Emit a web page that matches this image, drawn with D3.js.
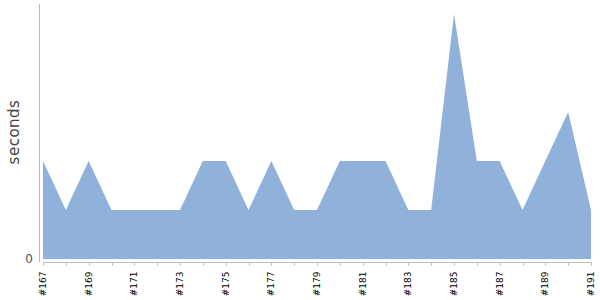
<!DOCTYPE html>
<html><head><meta charset="utf-8">
<script src="https://cdn.jsdelivr.net/npm/d3@7"></script>
<style>body{margin:0;background:#fff}svg{display:block}</style>
</head><body>
<svg id="c" width="600" height="300"></svg>
<script>
const builds = ["#167","#168","#169","#170","#171","#172","#173","#174","#175","#176","#177","#178","#179","#180","#181","#182","#183","#184","#185","#186","#187","#188","#189","#190","#191"];
const seconds = [2,1,2,1,1,1,1,2,2,1,2,1,1,2,2,2,1,1,5,2,2,1,2,3,1];
const yTicks = [0];

const svg = d3.select("#c");
const x = d3.scalePoint().domain(builds).range([43, 591]);
const y = d3.scaleLinear().domain([0, 5]).range([259, 14]);

const area = d3.area().x((d,i)=>x(builds[i])).y0(y(0)).y1(d=>y(d));
svg.append("path").datum(seconds).attr("d", area).attr("fill", "#8fb1da");

// y axis line
svg.append("line").attr("x1",39.5).attr("x2",39.5).attr("y1",4).attr("y2",262)
  .attr("stroke","#bbb").attr("stroke-width",1);
svg.selectAll(".yt").data(yTicks).enter().append("text")
  .attr("x",33).attr("y",d=>y(d)).attr("dy","0.35em").attr("text-anchor","end")
  .attr("font-family","DejaVu Sans").attr("font-size",12).attr("fill","#555").text(d=>d);

// x axis
const xa = svg.append("g").attr("transform","translate(0,262.5)");
xa.append("line").attr("x1",x(builds[0])).attr("x2",x(builds[builds.length-1]))
  .attr("stroke","#bbb");
xa.selectAll(".tk").data(builds).enter().append("line")
  .attr("x1",d=>Math.round(x(d))+0.5).attr("x2",d=>Math.round(x(d))+0.5).attr("y1",0).attr("y2",3)
  .attr("stroke","#bbb");
xa.selectAll(".lb").data(builds.filter((d,i)=>i%2===0)).enter().append("text")
  .attr("transform",d=>`translate(${x(d)},9) rotate(-90)`)
  .attr("text-anchor","end").attr("dy","0.33em")
  .attr("font-family","DejaVu Sans").attr("font-size",9).attr("fill","#000").text(d=>d);

svg.append("text").attr("transform","translate(19,132) rotate(-90)")
  .attr("text-anchor","middle").attr("font-family","DejaVu Sans").attr("font-size",15)
  .attr("letter-spacing",0.5)
  .attr("fill","#444").text("seconds");
</script>
</body></html>
